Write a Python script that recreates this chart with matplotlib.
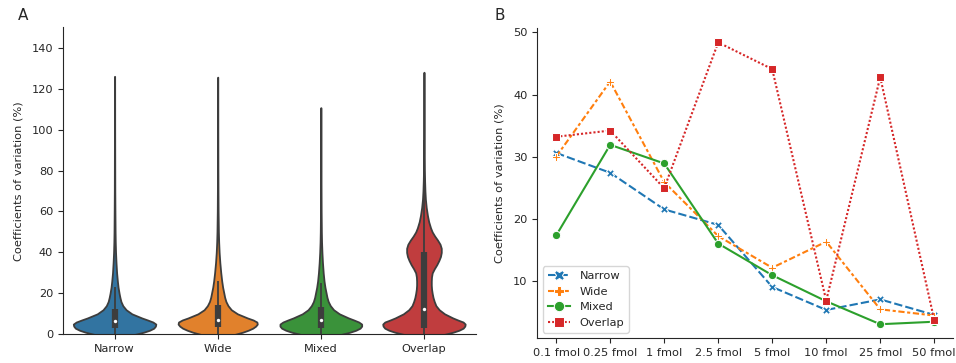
import numpy as np
import matplotlib.pyplot as plt

plt.rcParams['font.family'] = ['DejaVu Sans']
plt.rcParams['text.color'] = '#262626'
plt.rcParams['axes.labelcolor'] = '#262626'
plt.rcParams['xtick.color'] = '#262626'
plt.rcParams['ytick.color'] = '#262626'
plt.rcParams['axes.edgecolor'] = '#262626'

FS = 8.2

# --- panel A: violin profiles (relative half-width along the CV axis) ---
groups = ['Narrow', 'Wide', 'Mixed', 'Overlap']
violin_colors = ['#3274a1', '#e1812c', '#3a923a', '#c03d3e']

narrow_y = [-2, -1, 0, 1, 2, 3, 4, 5, 6, 7, 8, 10, 12, 14, 16, 18, 20, 23, 26,
            30, 35, 40, 45, 50, 60, 70, 80, 100, 126]
narrow_w = [0, 0.25, 0.5, 0.7, 0.85, 0.95, 0.99, 1.0, 0.93, 0.8, 0.66, 0.42, 0.28,
            0.2, 0.155, 0.13, 0.11, 0.085, 0.068, 0.05, 0.035, 0.024, 0.017, 0.013,
            0.009, 0.006, 0.005, 0.003, 0.002]

wide_y = [-2, -1, 0, 1, 2, 3, 4, 5, 6, 7, 8, 10, 12, 14, 16, 18, 20, 23, 26,
          30, 35, 40, 45, 50, 60, 70, 80, 100, 125.6]
wide_w = [0, 0.2, 0.42, 0.6, 0.74, 0.85, 0.92, 0.96, 0.95, 0.86, 0.72, 0.48, 0.33,
          0.25, 0.2, 0.17, 0.15, 0.12, 0.098, 0.075, 0.052, 0.035, 0.024, 0.017,
          0.01, 0.007, 0.005, 0.003, 0.002]

mixed_y = [-2, -1, 0, 1, 2, 3, 4, 5, 6, 7, 8, 10, 12, 14, 16, 18, 20, 23, 26,
           30, 35, 40, 45, 50, 60, 70, 80, 95, 110.7]
mixed_w = [0, 0.25, 0.5, 0.7, 0.85, 0.95, 0.99, 0.99, 0.92, 0.8, 0.67, 0.45, 0.31,
           0.23, 0.18, 0.15, 0.13, 0.1, 0.078, 0.058, 0.04, 0.027, 0.018, 0.013,
           0.008, 0.006, 0.004, 0.003, 0.002]

overlap_y = [-2, -1, 0, 1, 2, 3, 4, 5, 6, 7, 8, 10, 12, 14, 16, 18, 20, 22, 24, 26,
             28, 30, 32, 34, 36, 38, 40, 42, 44, 46, 48, 50, 52, 55, 58, 62, 66, 70,
             75, 80, 90, 100, 128]
overlap_w = [0, 0.25, 0.5, 0.7, 0.85, 0.95, 0.99, 1.0, 0.95, 0.82, 0.7, 0.5, 0.37,
             0.29, 0.25, 0.22, 0.2, 0.185, 0.178, 0.178, 0.183, 0.2, 0.25, 0.31,
             0.36, 0.4, 0.42, 0.42, 0.39, 0.33, 0.26, 0.2, 0.16, 0.115, 0.085, 0.055,
             0.035, 0.024, 0.016, 0.011, 0.007, 0.004, 0.002]

profiles = [(narrow_y, narrow_w), (wide_y, wide_w), (mixed_y, mixed_w),
            (overlap_y, overlap_w)]

# inner box: q1, median, q3, lower whisker, upper whisker
box_q1 = [3.0, 3.4, 3.0, 3.3]
box_med = [6.5, 7.0, 7.0, 12.4]
box_q3 = [12.2, 14.5, 13.2, 40.3]
whisk_lo = [0, 0, 0, 0]
whisk_hi = [23, 26, 25, 95]

# --- panel B: CV per dilution ---
amounts = ['0.1 fmol', '0.25 fmol', '1 fmol', '2.5 fmol', '5 fmol', '10 fmol',
           '25 fmol', '50 fmol']
narrow_cv = [30.6, 27.4, 21.5, 19.0, 9.0, 5.3, 7.0, 4.5]
wide_cv = [30.0, 42.1, 25.9, 17.2, 12.1, 16.3, 5.4, 4.4]
mixed_cv = [17.3, 31.9, 28.9, 16.0, 10.9, 6.7, 3.0, 3.4]
overlap_cv = [33.2, 34.2, 24.9, 48.4, 44.1, 6.8, 42.8, 3.7]

fig = plt.figure(figsize=(9.56, 3.63), dpi=100)
ax_a = fig.add_axes([0.0659, 0.079, 0.4315, 0.846])
ax_b = fig.add_axes([0.562, 0.068, 0.435, 0.854])

half = 0.4
for i, ((ys, ws), col) in enumerate(zip(profiles, violin_colors)):
    ys = np.array(ys)
    ws = np.array(ws) * half
    ax_a.fill_betweenx(ys, i - ws, i + ws, facecolor=col, edgecolor='#3d3d3d',
                       linewidth=1.3, zorder=1)
    ax_a.vlines(i, whisk_lo[i], whisk_hi[i], color='#3d3d3d', linewidth=1.3, zorder=2)
    ax_a.vlines(i, box_q1[i], box_q3[i], color='#3d3d3d', linewidth=4.5, zorder=2)
    ax_a.scatter([i], [box_med[i]], s=6, color='white', zorder=3, linewidths=0)

ax_a.set_xlim(-0.5, 3.5)
ax_a.set_ylim(0, 150)
ax_a.set_xticks(range(len(groups)))
ax_a.set_xticklabels(groups)
ax_a.set_yticks(np.arange(0, 141, 20))
ax_a.set_ylabel('Coefficients of variation (%)', fontsize=FS, labelpad=6)
for s in ['top', 'right']:
    ax_a.spines[s].set_visible(False)
ax_a.tick_params(labelsize=FS, length=3.5, width=0.8)

series = [
    ('Narrow', narrow_cv, '#1f77b4', (0, (4, 1.5)), 'X'),
    ('Wide', wide_cv, '#ff7f0e', (0, (3, 1.25, 1.5, 1.25)), 'P'),
    ('Mixed', mixed_cv, '#2ca02c', '-', 'o'),
    ('Overlap', overlap_cv, '#d62728', (0, (1, 1)), 's'),
]
x = np.arange(len(amounts))
for name, vals, col, ls, mk in series:
    ax_b.plot(x, vals, color=col, linestyle=ls, linewidth=1.5, marker=mk,
              markersize=6, markeredgecolor='white', markeredgewidth=0.75,
              label=name)

ax_b.set_xlim(-0.35, 7.35)
ax_b.set_xticks(x)
ax_b.set_xticklabels(amounts)
ax_b.set_ylabel('Coefficients of variation (%)', fontsize=FS, labelpad=6)
for s in ['top', 'right']:
    ax_b.spines[s].set_visible(False)
ax_b.tick_params(labelsize=FS, length=3.5, width=0.8)
ax_b.legend(loc='lower left', fontsize=FS, edgecolor='#cccccc', framealpha=0.8,
            markerscale=1.25)

fig.text(18 / 956, 1 - 15 / 363, 'A', fontsize=11, va='center', ha='left')
fig.text(494 / 956, 1 - 15 / 363, 'B', fontsize=11, va='center', ha='left')

fig.savefig('out.png', dpi=100)
